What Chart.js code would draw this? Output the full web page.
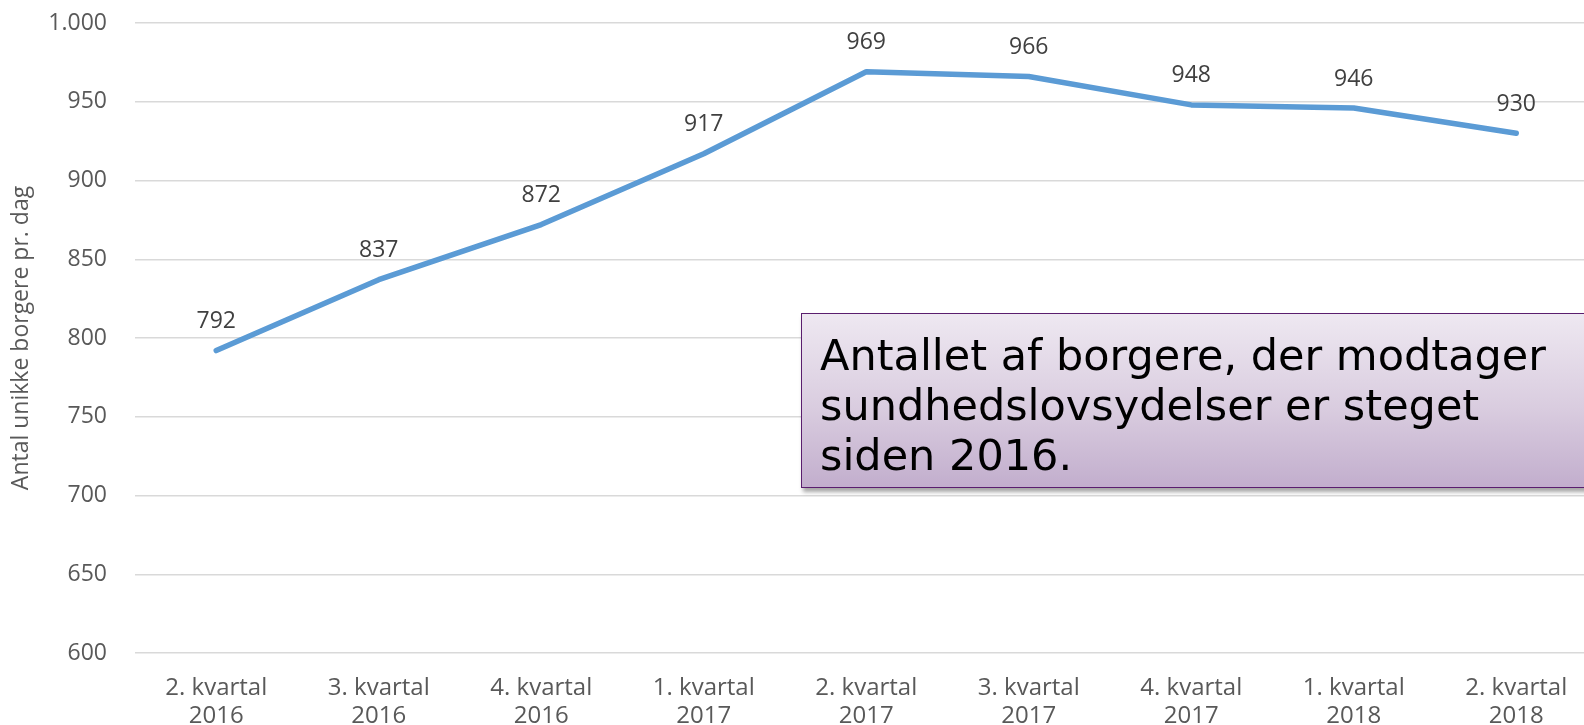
<!DOCTYPE html>
<html lang="da">
<head>
<meta charset="utf-8">
<title>Antal unikke borgere pr. dag</title>
<script src="https://cdn.jsdelivr.net/npm/chart.js@4/dist/chart.umd.min.js"></script>
<style>
    html, body { margin: 0; padding: 0; background: #fff; overflow: hidden; }
    #wrap { position: relative; width: 1584px; height: 725px; overflow: hidden; }
    #borgereChart { position: absolute; left: 0; top: 0; }
    #note {
        position: absolute;
        left: 801px;
        top: 313px;
        width: 820px;
        height: 175px;
        border: 1.5px solid #5A1E6E;
        background: linear-gradient(to bottom, #EEE8F1 0%, #D9CCDF 55%, #C2AECD 100%);
        box-shadow: 2px 4px 4px rgba(0, 0, 0, 0.35);
        box-sizing: border-box;
    }
    #note p {
        margin: 0;
        position: absolute;
        left: 18px;
        top: 16px;
        font-family: "DejaVu Sans", Verdana, sans-serif;
        font-size: 43px;
        line-height: 50px;
        color: #000;
        white-space: nowrap;
    }
</style>
</head>
<body>
<div id="wrap">
    <canvas id="borgereChart" width="1600" height="725"></canvas>
    <div id="note"><p>Antallet af borgere, der modtager<br>sundhedslovsydelser er steget<br>siden 2016.</p></div>
</div>
<script>
// Borgere pr. dag, kvartalsvis
const QUARTERS = ["2. kvartal", "3. kvartal", "4. kvartal", "1. kvartal", "2. kvartal",
                  "3. kvartal", "4. kvartal", "1. kvartal", "2. kvartal"];
const YEARS    = ["2016", "2016", "2016", "2017", "2017", "2017", "2017", "2018", "2018"];
const BORGERE  = [792, 837, 872, 917, 969, 966, 948, 946, 930];

const Y_MIN  = 600;
const Y_MAX  = 1000;
const Y_STEP = 50;

const Y_TITLE = "Antal unikke borgere pr. dag";

const COLORS = {
    line:  "#5B9BD5",
    grid:  "#D9D9D9",
    tick:  "#595959",
    label: "#404040",
};

// Danish thousands separator: 1000 -> "1.000"
function fmtDa(v) {
    return String(v).replace(/\B(?=(\d{3})+(?!\d))/g, ".");
}

// Draws the value above each point (no datalabels plugin available offline)
const valueLabels = {
    id: "valueLabels",
    afterDatasetsDraw(chart) {
        const ctx  = chart.ctx;
        const meta = chart.getDatasetMeta(0);
        ctx.save();
        ctx.font = '23px "Open Sans", sans-serif';
        ctx.fillStyle = COLORS.label;
        ctx.textAlign = "center";
        ctx.textBaseline = "middle";
        meta.data.forEach((pt, i) => {
            ctx.fillText(fmtDa(BORGERE[i]), pt.x, pt.y - 29);
        });
        ctx.restore();
    }
};

const ctx = document.getElementById("borgereChart").getContext("2d");

new Chart(ctx, {
    type: "line",
    data: {
        labels: QUARTERS.map((q, i) => [q, YEARS[i]]),
        datasets: [{
            label:           Y_TITLE,
            data:            BORGERE,
            borderColor:     COLORS.line,
            backgroundColor: COLORS.line,
            borderWidth:     5.5,
            borderCapStyle:  "round",
            borderJoinStyle: "round",
            pointRadius:     0,
            tension:         0,
            fill:            false,
        }]
    },
    options: {
        responsive: false,
        animation:  false,
        events:     [],
        layout: { padding: { top: 23, right: 2.5, left: 0, bottom: 0 } },
        scales: {
            x: {
                offset: true,
                grid:   { display: false },
                border: { display: false },
                ticks: {
                    color:       COLORS.tick,
                    font:        { family: "Open Sans", size: 24, lineHeight: 1.13 },
                    padding:     14,
                    maxRotation: 0,
                    autoSkip:    false,
                },
                afterFit(scale) { scale.height = 72; },
            },
            y: {
                min: Y_MIN,
                max: Y_MAX,
                grid: {
                    color:     COLORS.grid,
                    lineWidth: 1.5,
                    drawTicks: false,
                },
                border: { display: false },
                ticks: {
                    stepSize: Y_STEP,
                    color:    COLORS.tick,
                    font:     { family: "Open Sans", size: 23 },
                    padding:  28,
                    callback: v => fmtDa(v),
                },
                title: {
                    display: true,
                    text:    Y_TITLE,
                    color:   COLORS.tick,
                    font:    { family: "Open Sans", size: 23, lineHeight: 1.2 },
                    padding: { top: 8, bottom: 0 },
                },
                afterFit(scale) {
                    scale.width = 135;
                    // tick padding would otherwise push the plot area down
                    scale.paddingTop = 0;
                    scale.paddingBottom = 0;
                },
            },
        },
        plugins: {
            legend:  { display: false },
            tooltip: { enabled: false },
        }
    },
    plugins: [valueLabels]
});
</script>
</body>
</html>
